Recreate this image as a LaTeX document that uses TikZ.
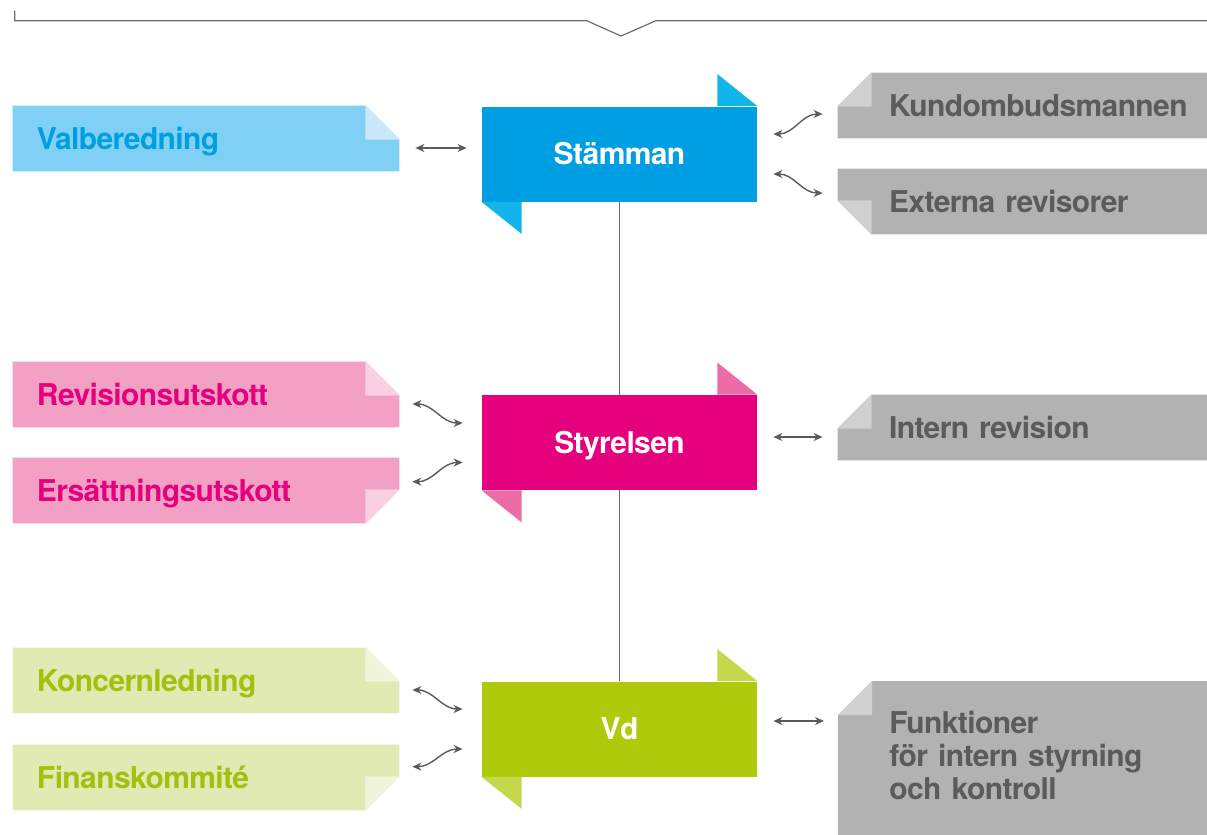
\documentclass[tikz,border=0pt]{standalone}
\usepackage{fontspec}
\setmainfont{TeX Gyre Heros}[LetterSpace=-2, WordSpace=0.85]
\usepackage{tikz}
\usetikzlibrary{arrows.meta, backgrounds}
\definecolor{stamblue}{RGB}{0,159,227}
\definecolor{stamfold}{RGB}{18,181,234}
\definecolor{valfill}{RGB}{128,207,244}
\definecolor{valfold}{RGB}{200,232,249}
\definecolor{styrmag}{RGB}{229,0,126}
\definecolor{styrfold}{RGB}{236,108,165}
\definecolor{pinkfill}{RGB}{242,160,196}
\definecolor{pinkfold}{RGB}{249,207,225}
\definecolor{vdgreen}{RGB}{175,202,11}
\definecolor{vdfold}{RGB}{197,215,77}
\definecolor{greenfill}{RGB}{226,234,179}
\definecolor{greenfold}{RGB}{240,244,217}
\definecolor{greentext}{RGB}{162,192,14}
\definecolor{grayfill}{RGB}{178,178,178}
\definecolor{grayfold}{RGB}{208,208,208}
\definecolor{graytext}{RGB}{91,91,91}
\definecolor{arrowgray}{RGB}{90,90,90}
\definecolor{linegray}{RGB}{110,110,110}

\begin{document}
\begin{tikzpicture}[x=0.5pt, y=-0.5pt,
  lbl/.style={font=\bfseries\fontsize{15}{16.5}\selectfont,
    text height=10.8pt, text depth=0pt},
  mainbox/.style={lbl, minimum width=137.5pt, minimum height=47.5pt,
    inner sep=0pt, text=white},
  sidebox/.style={lbl, text width=169pt, inner xsep=12pt, inner ysep=0pt,
    minimum height=32.5pt, align=left},
  graybox/.style={lbl, text width=159pt, inner xsep=25.5pt, inner ysep=0pt,
    minimum height=32.5pt, align=left, text=graytext},
  conn/.style={draw=arrowgray, line width=0.7pt,
    {Stealth[length=4.5pt,width=4pt]}-{Stealth[length=4.5pt,width=4pt]}}
]
  \useasboundingbox (0,0) rectangle (1207,835);
  % Top bracket
  \draw[linegray, line width=0.6pt]
    (14.7,10.7) -- (14.7,20.7) -- (586.7,20.7) -- (621,36)
    -- (656,20.7) -- (1207,20.7);

  % Main chain
  \node[mainbox, fill=stamblue] (stamman) at (619.5,154) {Stämman};
  \node[mainbox, fill=styrmag] (styrelsen) at (619.5,442.5) {Styrelsen};
  \node[mainbox, fill=vdgreen] (vd) at (619.5,729) {Vd};

  % Left side
  \node[sidebox, text=stamblue] (val) at (206,138.5) {Valberedning};
  \node[sidebox, text=styrmag] (rev) at (206,394.5) {Revisionsutskott};
  \node[sidebox, text=styrmag] (ers) at (206,490.5) {Ersättningsutskott};
  \node[sidebox, text=greentext] (kon) at (206,680.5) {Koncernledning};
  \node[sidebox, text=greentext] (fin) at (206,777.5) {Finanskommité};

  % Right side
  \node[graybox] (kund) at (1048,105.5) {Kundombudsmannen};
  \node[graybox] (ext) at (1048,201.5) {Externa revisorer};
  \node[graybox] (intern) at (1048,427.5) {Intern revision};
  \node[font=\bfseries\fontsize{15}{16.5}\selectfont, text=graytext,
    text width=159pt, inner xsep=25.5pt, inner ysep=15pt, align=left,
    anchor=north west] (funk) at (838,681)
    {Funktioner\\för intern styrning\\och kontroll};

  \begin{scope}[on background layer]
    \draw[linegray, line width=0.6pt] (stamman.south) -- (vd.north);
    % fold top right
    \foreach \n/\c in {val/valfill, rev/pinkfill, kon/greenfill}{
      \fill[\c] (\n.south west) -- (\n.north west)
        -- ([xshift=-17pt]\n.north east) -- ([yshift=-17pt]\n.north east)
        -- (\n.south east) -- cycle;
    }
    % fold bottom right
    \foreach \n/\c in {ers/pinkfill, fin/greenfill}{
      \fill[\c] (\n.north west) -- (\n.north east)
        -- ([yshift=17pt]\n.south east) -- ([xshift=-17pt]\n.south east)
        -- (\n.south west) -- cycle;
    }
    % fold top left
    \foreach \n in {kund, intern}{
      \fill[grayfill] (\n.south west) -- ([yshift=-17pt]\n.north west)
        -- ([xshift=17pt]\n.north west) -- (\n.north east)
        -- (\n.south east) -- cycle;
    }
    \fill[grayfill] ([yshift=-17pt]funk.north west)
      -- ([xshift=17pt]funk.north west) -- (funk.north east)
      -- ([yshift=-120pt]funk.north east)
      -- ([yshift=-120pt]funk.north west) -- cycle;
    % fold bottom left
    \fill[grayfill] (ext.north west) -- (ext.north east) -- (ext.south east)
      -- ([xshift=17pt]ext.south west) -- ([yshift=17pt]ext.south west)
      -- cycle;
  \end{scope}

  % Folded corners
  \foreach \n/\c in {val/valfold, rev/pinkfold, kon/greenfold}{
    \fill[\c] ([xshift=-17pt]\n.north east) -- ([yshift=-17pt]\n.north east)
      -- ([xshift=-17pt,yshift=-17pt]\n.north east) -- cycle;
  }
  \foreach \n/\c in {ers/pinkfold, fin/greenfold}{
    \fill[\c] ([yshift=17pt]\n.south east) -- ([xshift=-17pt]\n.south east)
      -- ([xshift=-17pt,yshift=17pt]\n.south east) -- cycle;
  }
  \foreach \n in {kund, intern, funk}{
    \fill[grayfold] ([yshift=-17pt]\n.north west) -- ([xshift=17pt]\n.north west)
      -- ([xshift=17pt,yshift=-17pt]\n.north west) -- cycle;
  }
  \fill[grayfold] ([yshift=17pt]ext.south west) -- ([xshift=17pt]ext.south west)
    -- ([xshift=17pt,yshift=17pt]ext.south west) -- cycle;
  \foreach \n/\c in {stamman/stamfold, styrelsen/styrfold, vd/vdfold}{
    \fill[\c] ([xshift=-20pt,yshift=16pt]\n.north east) -- (\n.north east)
      -- ([xshift=-20pt]\n.north east) -- cycle;
    \fill[\c] (\n.south west) -- ([xshift=20pt,yshift=-16pt]\n.south west)
      -- ([xshift=20pt]\n.south west) -- cycle;
  }

  % Connectors
  \draw[conn] ([xshift=8pt,yshift=-4.75pt]val.east)
    -- ([xshift=-7.5pt,yshift=3pt]stamman.west);
  \draw[conn] ([xshift=8pt,yshift=10pt]stamman.east)
    to[out=0,in=180] ([xshift=-7.5pt,yshift=-4.25pt]kund.west);
  \draw[conn] ([xshift=8pt,yshift=-10pt]stamman.east)
    to[out=0,in=180] ([xshift=-7.5pt,yshift=4.25pt]ext.west);
  \draw[conn] ([xshift=6.5pt,yshift=-4.75pt]rev.east)
    to[out=0,in=180] ([xshift=-9.5pt,yshift=9.75pt]styrelsen.west);
  \draw[conn] ([xshift=6.5pt,yshift=4.4pt]ers.east)
    to[out=0,in=180] ([xshift=-9.5pt,yshift=-10pt]styrelsen.west);
  \draw[conn] ([xshift=8pt,yshift=2.75pt]styrelsen.east)
    -- ([xshift=-7.5pt,yshift=-4.75pt]intern.west);
  \draw[conn] ([xshift=6.5pt,yshift=-4.75pt]kon.east)
    to[out=0,in=180] ([xshift=-9.5pt,yshift=10pt]vd.west);
  \draw[conn] ([xshift=6.5pt,yshift=5.4pt]fin.east)
    to[out=0,in=180] ([xshift=-9.5pt,yshift=-10pt]vd.west);
  \draw[conn] ([xshift=8pt,yshift=4pt]vd.east)
    -- ([xshift=-7pt,yshift=-20pt]funk.north west);
\end{tikzpicture}
\end{document}
